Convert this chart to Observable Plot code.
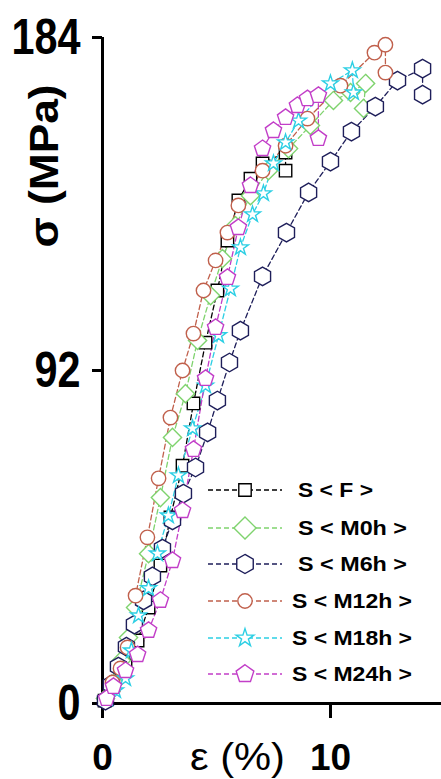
<!DOCTYPE html>
<html>
<head>
<meta charset="utf-8">
<script src="https://cdn.jsdelivr.net/npm/d3@7"></script>
<script src="https://cdn.jsdelivr.net/npm/@observablehq/plot@0.6"></script>
<style>
  html, body { margin: 0; padding: 0; background: #fff; }
  svg { display: block; }
</style>
</head>
<body>
<div id="chart"></div>
<script>
// Stress–strain curves of the six specimen groups (strain in %, stress in MPa)
const seriesNames = ["S < F >", "S < M0h >", "S < M6h >", "S < M12h >", "S < M18h >", "S < M24h >"];
const seriesColors = ["#000000", "#7fd36e", "#1e1e5a", "#c0604c", "#2ccfe4", "#c23ec8"];

const strainF = [0.09, 0.48, 1.01, 1.54, 2.02, 2.54, 2.98, 3.51, 3.99, 4.52, 5.04, 5.48, 5.96, 6.49, 7.02, 8.03, 8.03];
const stressF = [0.8, 5.0, 10.5, 17.4, 26.5, 38.1, 51.4, 65.7, 82.9, 99.7, 114.1, 127.9, 139.0, 145.0, 149.2, 152.2, 147.2];

const strainM0h = [0.13, 0.53, 0.83, 1.14, 1.45, 2.02, 2.54, 3.07, 3.64, 4.17, 4.74, 5.26, 5.83, 6.49, 7.28, 8.16, 9.12, 10.13, 10.88, 11.54, 11.45];
const stressM0h = [1.4, 5.8, 11.9, 18.2, 26.5, 41.4, 56.9, 73.5, 85.6, 100.3, 112.7, 122.9, 132.0, 140.3, 147.2, 153.3, 159.7, 166.6, 168.8, 171.3, 164.4];

const strainM6h = [0.13, 0.39, 0.70, 1.05, 1.40, 1.80, 2.19, 2.63, 3.07, 3.55, 4.08, 4.61, 5.04, 5.57, 6.05, 7.02, 8.07, 9.04, 10.0, 10.92, 11.97, 12.94, 14.04, 14.04];
const stressM6h = [0.8, 5.2, 10.2, 15.7, 21.8, 28.5, 35.1, 42.8, 50.6, 58.0, 65.2, 74.9, 83.7, 94.2, 103.0, 118.0, 130.1, 141.2, 149.7, 158.0, 164.9, 172.1, 175.4, 168.2];

const strainM12h = [0.44, 0.79, 1.10, 1.45, 1.97, 2.46, 2.98, 3.51, 3.99, 4.43, 4.96, 5.48, 5.96, 7.02, 8.03, 8.99, 10.44, 11.93, 12.41, 12.41];
const stressM12h = [5.8, 9.7, 15.5, 29.8, 45.9, 62.2, 79.0, 92.0, 102.2, 114.1, 122.4, 130.1, 137.6, 147.2, 154.1, 161.6, 170.7, 179.8, 182.0, 174.3];

const strainM18h = [0.22, 0.57, 1.01, 1.27, 1.58, 2.02, 2.41, 2.89, 3.33, 3.95, 4.52, 5.09, 5.61, 6.05, 6.58, 7.06, 7.50, 8.03, 8.60, 10.0, 10.96, 11.01];
const stressM18h = [1.4, 3.6, 6.9, 14.6, 24.3, 31.8, 41.4, 51.9, 63.0, 76.0, 87.8, 101.7, 114.6, 126.0, 135.1, 140.9, 149.2, 155.0, 161.0, 171.3, 174.9, 168.8];

const strainM24h = [0.18, 0.48, 1.01, 1.54, 2.02, 2.54, 3.07, 3.51, 3.99, 4.52, 4.96, 5.48, 5.96, 6.49, 7.02, 7.50, 8.03, 8.55, 8.99, 9.47, 9.47];
const stressM24h = [1.4, 4.7, 9.1, 13.5, 20.2, 28.5, 39.5, 53.3, 70.2, 89.8, 103.9, 117.7, 131.5, 143.1, 153.3, 158.3, 161.9, 165.2, 167.1, 168.0, 156.1];

const xTicks = [0, 10];
const yTicks = [0, 92, 184];

// Open marker shapes that d3 does not provide
function polygonSymbol(sides, areaFactor) {
  return {
    draw(context, size) {
      const r = Math.sqrt(size / areaFactor);
      for (let i = 0; i < sides; i++) {
        const a = -Math.PI / 2 + (i * 2 * Math.PI) / sides;
        const px = r * Math.cos(a), py = r * Math.sin(a);
        if (i === 0) context.moveTo(px, py); else context.lineTo(px, py);
      }
      context.closePath();
    }
  };
}
const hexagon = polygonSymbol(6, 2.0);
const pentagon = polygonSymbol(5, 2.1);

const seriesSymbols = [d3.symbolSquare, d3.symbolDiamond2, hexagon, d3.symbolCircle, d3.symbolStar, pentagon];
const seriesRadius = [7.0, 8.2, 7.4, 7.2, 5.0, 7.0];

const strains = [strainF, strainM0h, strainM6h, strainM12h, strainM18h, strainM24h];
const stresses = [stressF, stressM0h, stressM6h, stressM12h, stressM18h, stressM24h];

const seriesRows = strains.map((xs, i) => xs.map((x, j) => ({strain: x, stress: stresses[i][j]})));

const marks = [];
seriesRows.forEach((rows, i) => {
  marks.push(Plot.line(rows, {
    x: "strain", y: "stress", stroke: seriesColors[i], strokeWidth: 1.3, strokeDasharray: "5,3"
  }));
});
seriesRows.forEach((rows, i) => {
  marks.push(Plot.dot(rows, {
    x: "strain", y: "stress", symbol: seriesSymbols[i], r: seriesRadius[i],
    stroke: seriesColors[i], fill: "white", strokeWidth: 1.4
  }));
});

const chart = Plot.plot({
  width: 441,
  height: 779,
  marginLeft: 102,
  marginRight: 0,
  marginTop: 37,
  marginBottom: 76,
  style: {fontFamily: "Liberation Sans, Arial, sans-serif", background: "white", color: "black"},
  x: {domain: [0, 14.87]},
  y: {domain: [0, 184]},
  marks: [
    Plot.axisY({ticks: yTicks, tickSize: 10, tickPadding: 12, fontSize: 50, fontWeight: "bold", strokeWidth: 3, label: null}),
    Plot.axisX({ticks: xTicks, tickSize: 15, tickPadding: 25, fontSize: 37, fontWeight: "bold", strokeWidth: 3, label: null}),
    Plot.ruleX([0], {strokeWidth: 3}),
    Plot.ruleY([0], {strokeWidth: 3}),
    ...marks
  ]
});

document.getElementById("chart").appendChild(chart);

const svg = d3.select(chart);

// Narrow the y tick labels
svg.selectAll('[aria-label="y-axis tick label"] text').each(function () {
  const n = this.textContent.length;
  this.setAttribute("textLength", n * 23);
  this.setAttribute("lengthAdjust", "spacingAndGlyphs");
});

// Axis titles
svg.append("text")
  .attr("transform", "translate(58,166) rotate(-90)")
  .attr("text-anchor", "middle")
  .attr("font-family", "Liberation Sans, Arial, sans-serif")
  .attr("font-weight", "bold")
  .attr("font-size", 41)
  .attr("textLength", 163)
  .attr("lengthAdjust", "spacingAndGlyphs")
  .text("σ (MPa)");

svg.append("text")
  .attr("x", 190)
  .attr("y", 770)
  .attr("text-anchor", "start")
  .attr("font-family", "Liberation Sans, Arial, sans-serif")
  .attr("font-size", 38)
  .attr("textLength", 95)
  .attr("lengthAdjust", "spacingAndGlyphs")
  .text("ε (%)");

// Legend
const legendRowY = [490, 528, 564, 601, 638, 674];
const legendTextX = [298, 298, 298, 292, 292, 292];
const legendTextW = [75, 109, 109, 120, 120, 120];
const legendRadius = [7.0, 10.0, 7.6, 7.2, 5.6, 7.6];
const legend = svg.append("g").attr("aria-label", "legend");
seriesNames.forEach((name, i) => {
  const g = legend.append("g").attr("transform", `translate(0,${legendRowY[i]})`);
  g.append("line")
    .attr("x1", 208).attr("x2", 282).attr("y1", 0).attr("y2", 0)
    .attr("stroke", seriesColors[i]).attr("stroke-width", 1.3).attr("stroke-dasharray", "5,3");
  g.append("path")
    .attr("transform", "translate(245,0)")
    .attr("d", d3.symbol(seriesSymbols[i], Math.PI * legendRadius[i] * legendRadius[i])())
    .attr("fill", "white").attr("stroke", seriesColors[i]).attr("stroke-width", 1.4);
  g.append("text")
    .attr("x", legendTextX[i]).attr("y", 7)
    .attr("text-anchor", "start")
    .attr("font-family", "Liberation Sans, Arial, sans-serif")
    .attr("font-weight", "bold").attr("font-size", 20)
    .attr("textLength", legendTextW[i]).attr("lengthAdjust", "spacingAndGlyphs")
    .text(name);
});
</script>
</body>
</html>
